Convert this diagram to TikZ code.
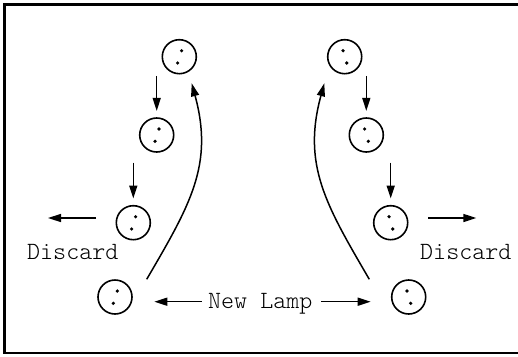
\documentclass[tikz,border=0pt]{standalone}
\usepackage{fontspec}
\newfontfamily\lampfont{Latin Modern Mono Light}
\usetikzlibrary{arrows.meta}
\tikzset{
  lamp/.style={circle, draw, line width=1.6pt, minimum size=34pt, inner sep=0pt},
  arr/.style={line width=1.5pt, -{Triangle[length=13pt,width=8pt]}},
  lbl/.style={inner sep=0pt, anchor=base west, font=\fontsize{24.8}{28}\selectfont\lampfont},
  frame/.style={line width=2.3pt}
}
\newcommand{\dotsL}[1]{%
  \fill (#1) ++(2.3,-6) circle[radius=1.8pt];
  \fill (#1) ++(-1.7,6.3) circle[radius=1.8pt];}
\newcommand{\dotsR}[1]{%
  \fill (#1) ++(-1.7,-6) circle[radius=1.8pt];
  \fill (#1) ++(2,6.3) circle[radius=1.8pt];}
\begin{document}
\begin{tikzpicture}[x=1pt,y=-1pt]
\useasboundingbox (0,0) rectangle (518,356);
\draw[frame] (521,4.5) -- (4.5,4.5) -- (4.5,353) -- (521,353);
% left lamps
\node[lamp] (L1) at (179.3,56.7) {};
\node[lamp] (L2) at (156.7,135) {};
\node[lamp] (L3) at (133.3,222.7) {};
\node[lamp] (L4) at (115,297) {};
% right lamps
\node[lamp] (R1) at (344.7,56.7) {};
\node[lamp] (R2) at (366.3,135) {};
\node[lamp] (R3) at (390.7,222.7) {};
\node[lamp] (R4) at (408.7,297) {};
\dotsL{L1}\dotsL{L2}\dotsL{L3}\dotsL{L4}
\dotsR{R1}\dotsR{R2}\dotsR{R3}\dotsR{R4}
% down arrows
\draw[arr, shorten <=1.3pt, shorten >=6.3pt] (L2 |- L1.south) -- (L2.north);
\draw[arr, shorten <=9.7pt, shorten >=6.4pt] (L3 |- L2.south) -- (L3.north);
\draw[arr, shorten <=1.3pt, shorten >=6.3pt] (R2 |- R1.south) -- (R2.north);
\draw[arr, shorten <=9.7pt, shorten >=6.4pt] (R3 |- R2.south) -- (R3.north);
% discard
\coordinate (dlS) at (96,218);
\coordinate (dlE) at (48,218);
\coordinate (drS) at (428,218);
\coordinate (drE) at (476.3,218);
\draw[arr] (dlS) -- (dlE);
\draw[arr] (drS) -- (drE);
\node[lbl] (tdl) at (27,259.3) {Discard};
\node[lbl] (tdr) at (420,259.3) {Discard};
% new lamp
\node[lbl] (tnl) at (208,308.7) {New Lamp};
\coordinate (nlA) at (201.7,301.7);
\coordinate (nlB) at (154.3,301.7);
\coordinate (nrA) at (321.3,301.7);
\coordinate (nrB) at (370.7,301.7);
\draw[arr] (nlA) -- (nlB);
\draw[arr] (nrA) -- (nrB);
% curved return arrows
\coordinate (cl0) at (146.7,279.3);
\coordinate (cl1) at (191.7,83.3);
\coordinate (cr0) at (369.3,279.3);
\coordinate (cr1) at (324.3,83.3);
\draw[arr] (cl0) .. controls (190,205) and (214,165) .. (cl1);
\draw[arr] (cr0) .. controls (326,205) and (302,165) .. (cr1);
\end{tikzpicture}
\end{document}
